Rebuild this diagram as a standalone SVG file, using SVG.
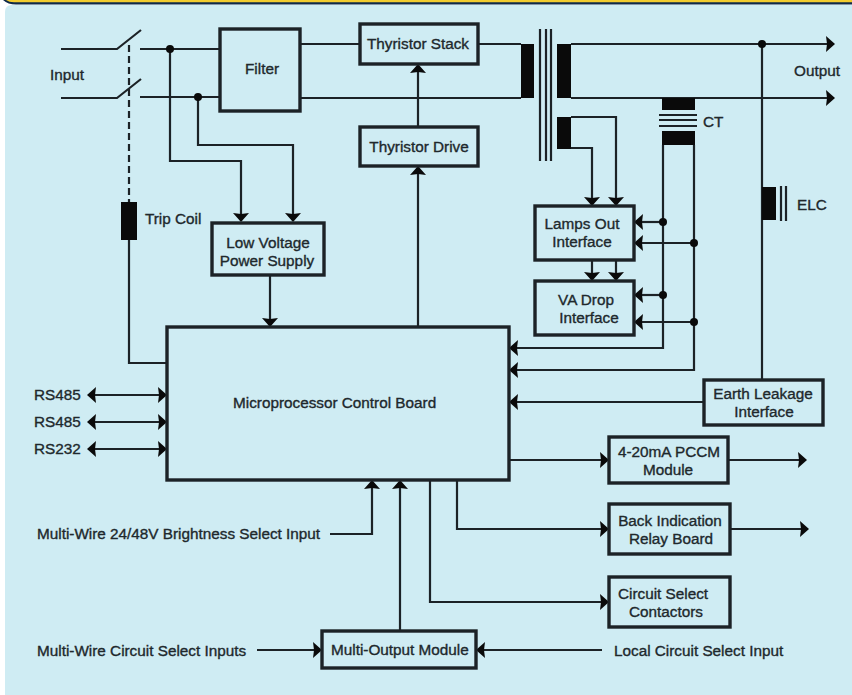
<svg xmlns="http://www.w3.org/2000/svg" width="852" height="695" viewBox="0 0 852 695">
<style>
.box{fill:none;stroke:#1c2226;stroke-width:3.4}
.w{fill:none;stroke:#1c2226;stroke-width:2.2}
.a{marker-end:url(#ah)}
.b{marker-start:url(#as);marker-end:url(#ah)}
.k{fill:#0a0a0a}
.d{fill:#0a0a0a}
text{font-family:"Liberation Sans",Arial,sans-serif;font-size:15.3px;fill:#20282c;stroke:#20282c;stroke-width:.35}
.m{text-anchor:middle}
</style>
<defs>
<marker id="ah" markerUnits="userSpaceOnUse" markerWidth="12" markerHeight="18" refX="9" refY="8" orient="auto"><path d="M1,0 L2,8 L1,16 L10,8Z" fill="#0a0a0a"/></marker>
<marker id="as" markerUnits="userSpaceOnUse" markerWidth="12" markerHeight="18" refX="2" refY="8" orient="auto"><path d="M10,0 L9,8 L10,16 L1,8Z" fill="#0a0a0a"/></marker>
</defs>
<rect width="852" height="695" fill="#fff"/>
<path d="M5,695V12Q5,5 12,5H852V695Z" fill="#cfecf3"/>
<path d="M0,0H852V4.5H16Q8,4.5 3,0Z" fill="#0e2a4a"/>
<path d="M6,0H852V2.2H14Q9,2.2 6,0Z" fill="#f2cc2e"/>
<g id="connectors">
<path class="w" d="M61,49H117L141,30M140,49H220"/>
<path class="w" d="M61,98H117L141,79M140,97H220"/>
<path class="w" stroke-dasharray="7,4" d="M129,45V202"/>
<path class="w" d="M129,240V363H167"/>
<path class="w a" d="M170,49V161H241V221"/>
<path class="w a" d="M198,97V145H293V221"/>
<path class="w" d="M300,44H360M478,44H521M300,98H521"/>
<path class="w" d="M540,29V161M546,29V161M551,29V161"/>
<path class="w a" d="M571,44H834"/>
<path class="w a" d="M571,98H834"/>
<path class="w" d="M762,44V380M781,186V221M786,186V221"/>
<path class="w a" d="M571,117H616V205"/>
<path class="w a" d="M571,148H592V205"/>
<path class="w" d="M659,115H697M659,120H697M659,126H697"/>
<path class="w a" d="M663,145V348H510"/>
<path class="w a" d="M694,145V370H510"/>
<path class="w a" d="M704,402H510"/>
<path class="w a" d="M663,222H635"/>
<path class="w a" d="M694,243H635"/>
<path class="w a" d="M663,295H635"/>
<path class="w a" d="M694,322H635"/>
<path class="w a" d="M592,260V280"/>
<path class="w a" d="M616,260V280"/>
<path class="w a" d="M418,127V65"/>
<path class="w a" d="M418,327V167"/>
<path class="w a" d="M270,275V326"/>
<path class="w b" d="M88,395H166"/>
<path class="w b" d="M88,422H166"/>
<path class="w b" d="M88,449H166"/>
<path class="w a" d="M330,534H372V481"/>
<path class="w a" d="M400,631V481"/>
<path class="w a" d="M430,481V602H608"/>
<path class="w a" d="M457,481V529H608"/>
<path class="w a" d="M509,460H608"/>
<path class="w a" d="M728,460H806"/>
<path class="w a" d="M730,529H808"/>
<path class="w a" d="M602,650H477"/>
<path class="w a" d="M257,650H321"/>
<rect class="k" x="121" y="202" width="16" height="38"/>
<rect class="k" x="521" y="44" width="13" height="54"/>
<rect class="k" x="557" y="44" width="14" height="54"/>
<rect class="k" x="557" y="117" width="14" height="32"/>
<rect class="k" x="662" y="98" width="33" height="12"/>
<rect class="k" x="662" y="131" width="33" height="14"/>
<rect class="k" x="762" y="187" width="14" height="33"/>
<circle class="d" cx="170" cy="49" r="4"/>
<circle class="d" cx="198" cy="97" r="4"/>
<circle class="d" cx="762" cy="44" r="4"/>
<circle class="d" cx="663" cy="222" r="4"/>
<circle class="d" cx="694" cy="243" r="4"/>
<circle class="d" cx="663" cy="295" r="4"/>
<circle class="d" cx="694" cy="322" r="4"/>
</g>
<g id="labels">
<text x="50" y="80">Input</text>
<text x="794" y="76">Output</text>
<text x="703" y="127">CT</text>
<text x="797" y="210">ELC</text>
<text x="145" y="224">Trip Coil</text>
<text x="34" y="400">RS485</text>
<text x="34" y="427">RS485</text>
<text x="34" y="454">RS232</text>
<text x="37" y="539">Multi-Wire 24/48V Brightness Select Input</text>
<text x="37" y="656">Multi-Wire Circuit Select Inputs</text>
<text x="614" y="656">Local Circuit Select Input</text>
</g>
<g id="filter"><rect class="box" x="220" y="29" width="80" height="82"/><text class="m" x="262" y="74">Filter</text></g>
<g id="thyristor-stack"><rect class="box" x="360" y="24" width="118" height="40"/><text class="m" x="418" y="49">Thyristor Stack</text></g>
<g id="thyristor-drive"><rect class="box" x="360" y="127" width="118" height="39"/><text class="m" x="419" y="152">Thyristor Drive</text></g>
<g id="low-voltage"><rect class="box" x="212" y="223" width="112" height="52"/><text class="m" x="268" y="248">Low Voltage</text><text class="m" x="267" y="266">Power Supply</text></g>
<g id="micro"><rect class="box" x="167" y="327" width="342" height="153"/><text x="233" y="408">Microprocessor Control Board</text></g>
<g id="lamps"><rect class="box" x="535" y="206" width="99" height="54"/><text class="m" x="582" y="229">Lamps Out</text><text class="m" x="582" y="247">Interface</text></g>
<g id="va-drop"><rect class="box" x="535" y="281" width="99" height="54"/><text class="m" x="586" y="305">VA Drop</text><text class="m" x="589" y="323">Interface</text></g>
<g id="earth"><rect class="box" x="704" y="380" width="119" height="45"/><text class="m" x="763" y="399">Earth Leakage</text><text class="m" x="764" y="417">Interface</text></g>
<g id="pccm"><rect class="box" x="609" y="437" width="119" height="46"/><text class="m" x="669" y="457">4-20mA PCCM</text><text class="m" x="668" y="475">Module</text></g>
<g id="back"><rect class="box" x="609" y="504" width="121" height="50"/><text class="m" x="670" y="526">Back Indication</text><text class="m" x="671" y="544">Relay Board</text></g>
<g id="circuit"><rect class="box" x="609" y="577" width="121" height="50"/><text class="m" x="663" y="599">Circuit Select</text><text class="m" x="666" y="617">Contactors</text></g>
<g id="multi-output"><rect class="box" x="322" y="631" width="154" height="37"/><text x="331" y="655">Multi-Output Module</text></g>
</svg>
